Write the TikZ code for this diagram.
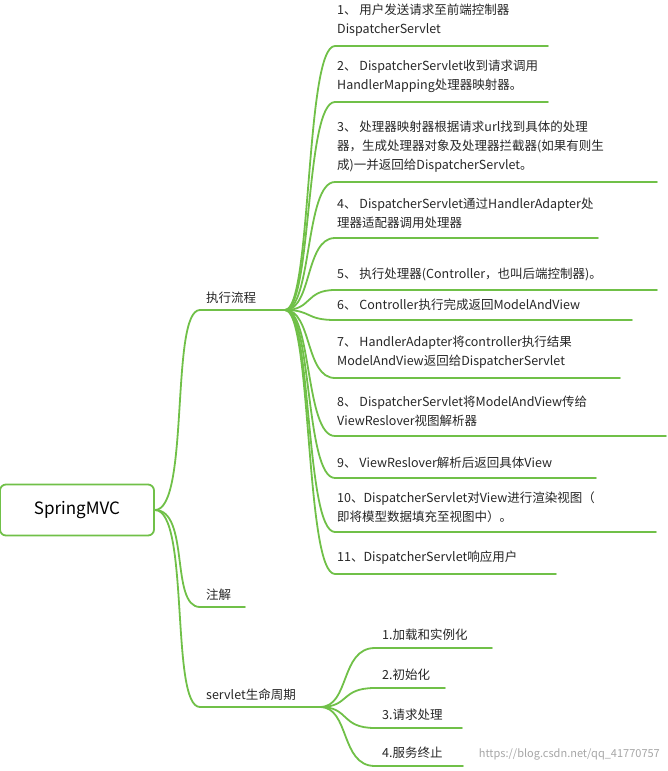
\documentclass[tikz,border=0pt]{standalone}
\usepackage{fontspec}
\setmainfont{Noto Sans CJK SC}
\begin{document}
\begin{tikzpicture}[x=1pt,y=-1pt]
\definecolor{g}{RGB}{112,192,72}
\tikzset{ln/.style={draw=g, line width=1.8pt, line cap=round},
  item/.style={anchor=south west, inner sep=0pt, align=left, font=\fontsize{12.5}{19}\selectfont, text=black!85},
  br/.style={anchor=south west, inner sep=0pt, font=\fontsize{12.5}{19}\selectfont, text=black!85}}
\useasboundingbox (0,0) rectangle (667,771);
% root
\node[draw=g, line width=1.8pt, rounded corners=6pt, minimum width=154pt, minimum height=51pt, font=\fontsize{17}{20}\selectfont] (root) at (77,510) {SpringMVC};
% branches
\node[br] (b1) at (206,304) {执行流程};
\node[br] (b2) at (206,601) {注解};
\node[br] (b3) at (206,701) {servlet生命周期};
\coordinate (b1e) at (285,310);
\coordinate (b3e) at (320,707);
\foreach \n/\y/\e in {b1/310/285, b2/607/245, b3/707/320}{
  \draw[ln] (root.east) .. controls (190,510) and (170,\y) .. (200,\y) -- (\e,\y);
}
% items of 执行流程
\foreach \i/\y/\e/\t in {
 1/46/548/{1、 用户发送请求至前端控制器\\DispatcherServlet},
 2/102/548/{2、 DispatcherServlet收到请求调用\\HandlerMapping处理器映射器。},
 3/182/657/{3、 处理器映射器根据请求url找到具体的处理\\器，生成处理器对象及处理器拦截器(如果有则生\\成)一并返回给DispatcherServlet。},
 4/238/598/{4、 DispatcherServlet通过HandlerAdapter处\\理器适配器调用处理器},
 5/290/657/{5、 执行处理器(Controller，也叫后端控制器)。},
 6/320/632/{6、 Controller执行完成返回ModelAndView},
 7/378/620/{7、 HandlerAdapter将controller执行结果\\ModelAndView返回给DispatcherServlet},
 8/436/666/{8、 DispatcherServlet将ModelAndView传给\\ViewReslover视图解析器},
 9/478/596/{9、 ViewReslover解析后返回具体View},
 10/532/656/{10、DispatcherServlet对View进行渲染视图（\\即将模型数据填充至视图中）。},
 11/574/556/{11、DispatcherServlet响应用户}}{
  \node[item] (i\i) at (337,\y-9) {\t};
  \draw[ln] (b1e) .. controls (312,310) and (305,\y) .. (335,\y) -- (\e,\y);
}
% servlet lifecycle
\foreach \i/\y/\e/\t in {1/648/492/{1.加载和实例化}, 2/688/445/{2.初始化}, 3/728/462/{3.请求处理}, 4/766/463/{4.服务终止}}{
  \node[item] (s\i) at (382,\y-7) {\t};
  \draw[ln] (b3e) .. controls (350,707) and (340,\y) .. (375,\y) -- (\e,\y);
}
\node[anchor=south east, inner sep=0pt, text=black!35, font=\fontsize{11}{13}\selectfont] (wm) at (660,760) {https://blog.csdn.net/qq\_41770757};
\end{tikzpicture}
\end{document}
